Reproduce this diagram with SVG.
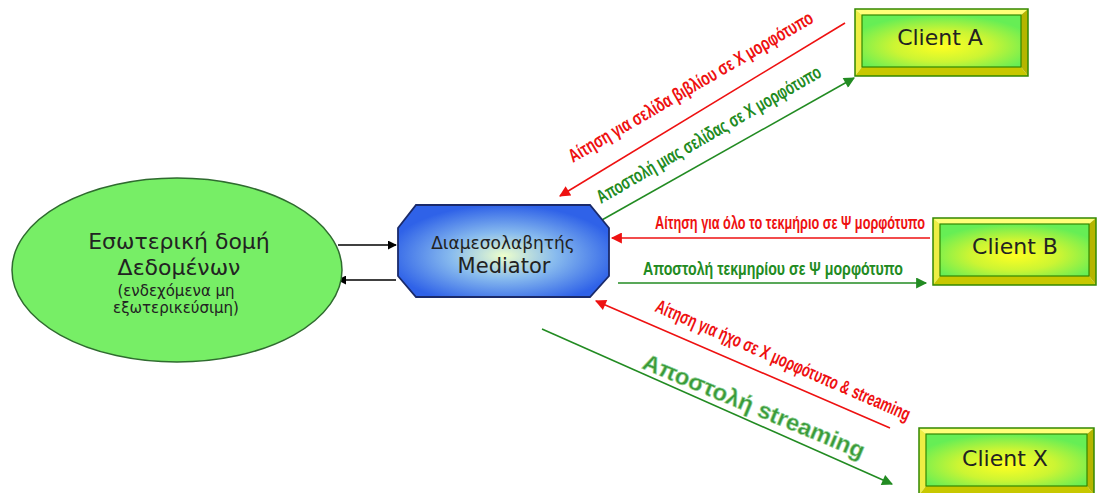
<svg xmlns="http://www.w3.org/2000/svg" width="1098" height="493" viewBox="0 0 1098 493">
<defs>
<radialGradient id="gBox" cx="50%" cy="60%" r="60%">
<stop offset="0" stop-color="#ffff22"/>
<stop offset="0.5" stop-color="#ccf533"/>
<stop offset="1" stop-color="#66ee55"/>
</radialGradient>
<radialGradient id="gMed" cx="50%" cy="55%" r="55%">
<stop offset="0" stop-color="#eeffcc"/>
<stop offset="0.45" stop-color="#88bbee"/>
<stop offset="1" stop-color="#2f62e8"/>
</radialGradient>
<marker id="aBlack" viewBox="0 0 10 10" refX="9" refY="5" markerWidth="9" markerHeight="9" markerUnits="userSpaceOnUse" orient="auto"><path d="M0,0 L10,5 L0,10 z" fill="#000"/></marker>
<marker id="aRed" viewBox="0 0 10 10" refX="9" refY="5" markerWidth="13" markerHeight="11" markerUnits="userSpaceOnUse" orient="auto"><path d="M0,0 L10,5 L0,10 z" fill="#ee1111"/></marker>
<marker id="aGreen" viewBox="0 0 10 10" refX="9" refY="5" markerWidth="13" markerHeight="11" markerUnits="userSpaceOnUse" orient="auto"><path d="M0,0 L10,5 L0,10 z" fill="#228b22"/></marker>
</defs>
<style>
.ntext{font-family:"DejaVu Sans","Liberation Sans",sans-serif;fill:#222;text-anchor:middle}
.red{stroke:#ee1111;stroke-width:1.6;fill:none}
.grn{stroke:#228b22;stroke-width:1.6;fill:none}
.lblR{font-family:"Liberation Sans",Arial,sans-serif;font-weight:bold;fill:#ee1111;font-size:19px}
.lblG{font-family:"Liberation Sans",Arial,sans-serif;font-weight:bold;fill:#228b22;font-size:19px}
.bt{fill:#ffff77}.bl{fill:#eeee44}.bb{fill:#c8c800}.br{fill:#b5b500}
.frame{fill:none;stroke:#338800;stroke-width:1.5}
.inner{fill:url(#gBox);stroke:#338800;stroke-width:1.2}
</style>
<rect width="1098" height="493" fill="#fff"/>

<g id="connectors">
<line x1="338" y1="245" x2="396" y2="245" stroke="#000" stroke-width="1.3" marker-end="url(#aBlack)"/>
<line x1="396" y1="280" x2="338" y2="280" stroke="#000" stroke-width="1.3" marker-end="url(#aBlack)"/>
<line class="red" x1="845" y1="23" x2="560" y2="196" marker-end="url(#aRed)"/>
<line class="grn" x1="593" y1="225" x2="854" y2="78" marker-end="url(#aGreen)"/>
<line class="red" x1="930" y1="238" x2="612" y2="238" marker-end="url(#aRed)"/>
<line class="grn" x1="618" y1="283" x2="926" y2="283" marker-end="url(#aGreen)"/>
<line class="red" x1="890" y1="428" x2="596" y2="301" marker-end="url(#aRed)"/>
<line class="grn" x1="542" y1="329" x2="892" y2="484" marker-end="url(#aGreen)"/>
<text class="lblR" transform="translate(573,163) rotate(-30.3)" textLength="280" lengthAdjust="spacingAndGlyphs">Αίτηση για σελίδα βιβλίου σε Χ μορφότυπο</text>
<text class="lblG" transform="translate(601,204) rotate(-30)" textLength="256" lengthAdjust="spacingAndGlyphs">Αποστολή μιας σελίδας σε Χ μορφότυπο</text>
<text class="lblR" x="655" y="229" textLength="270" lengthAdjust="spacingAndGlyphs">Αίτηση για όλο το τεκμήριο σε Ψ μορφότυπο</text>
<text class="lblG" x="643" y="275" textLength="260" lengthAdjust="spacingAndGlyphs">Αποστολή τεκμηρίου σε Ψ μορφότυπο</text>
<text class="lblR" transform="translate(654,311) rotate(23.5)" textLength="276" lengthAdjust="spacingAndGlyphs">Αίτηση για ήχο σε Χ μορφότυπο &amp; streaming</text>
<text transform="translate(641,368) rotate(22.5)" textLength="238" lengthAdjust="spacingAndGlyphs" font-family="Liberation Sans, Arial, sans-serif" font-weight="bold" font-size="23" fill="#3a9a3a" stroke="#9fd89f" stroke-width="0.6">Αποστολή streaming</text>
</g>

<g id="internal">
<ellipse cx="177" cy="270" rx="165" ry="92" fill="#77ee66" stroke="#2f6b2f" stroke-width="1.5"/>
<text class="ntext" x="179" y="249" font-size="22">Εσωτερική δομή</text>
<text class="ntext" x="179" y="275" font-size="22">Δεδομένων</text>
<text class="ntext" x="176" y="296" font-size="15">(ενδεχόμενα μη</text>
<text class="ntext" x="176" y="313" font-size="15">εξωτερικεύσιμη)</text>
</g>

<g id="mediator">
<polygon points="416,205 590,205 609,228 609,276 590,297 416,297 398,276 398,228" fill="url(#gMed)" stroke="#1a2a6a" stroke-width="1.8"/>
<text class="ntext" x="503" y="249" font-size="17">Διαμεσολαβητής</text>
<text class="ntext" x="504" y="273" font-size="21">Mediator</text>
</g>

<g id="clientA">
<polygon class="bt" points="855,9 1028,9 1021,15 862,15"/>
<polygon class="bl" points="855,9 862,15 862,67 855,76"/>
<polygon class="bb" points="855,76 862,67 1021,67 1028,76"/>
<polygon class="br" points="1028,9 1028,76 1021,67 1021,15"/>
<rect class="inner" x="862" y="15" width="159" height="52"/>
<rect class="frame" x="855" y="9" width="173" height="67"/>
<text class="ntext" x="940" y="45" font-size="22">Client A</text>
</g>

<g id="clientB">
<polygon class="bt" points="933,218 1096,218 1089,224 940,224"/>
<polygon class="bl" points="933,218 940,224 940,276 933,285"/>
<polygon class="bb" points="933,285 940,276 1089,276 1096,285"/>
<polygon class="br" points="1096,218 1096,285 1089,276 1089,224"/>
<rect class="inner" x="940" y="224" width="149" height="52"/>
<rect class="frame" x="933" y="218" width="163" height="67"/>
<text class="ntext" x="1015" y="254" font-size="22">Client B</text>
</g>

<g id="clientX">
<polygon class="bt" points="919,428 1094,428 1087,434 926,434"/>
<polygon class="bl" points="919,428 926,434 926,486 919,495"/>
<polygon class="bb" points="919,495 926,486 1087,486 1094,495"/>
<polygon class="br" points="1094,428 1094,495 1087,486 1087,434"/>
<rect class="inner" x="926" y="434" width="161" height="52"/>
<rect class="frame" x="919" y="428" width="175" height="67"/>
<text class="ntext" x="1005" y="466" font-size="22">Client X</text>
</g>
</svg>
